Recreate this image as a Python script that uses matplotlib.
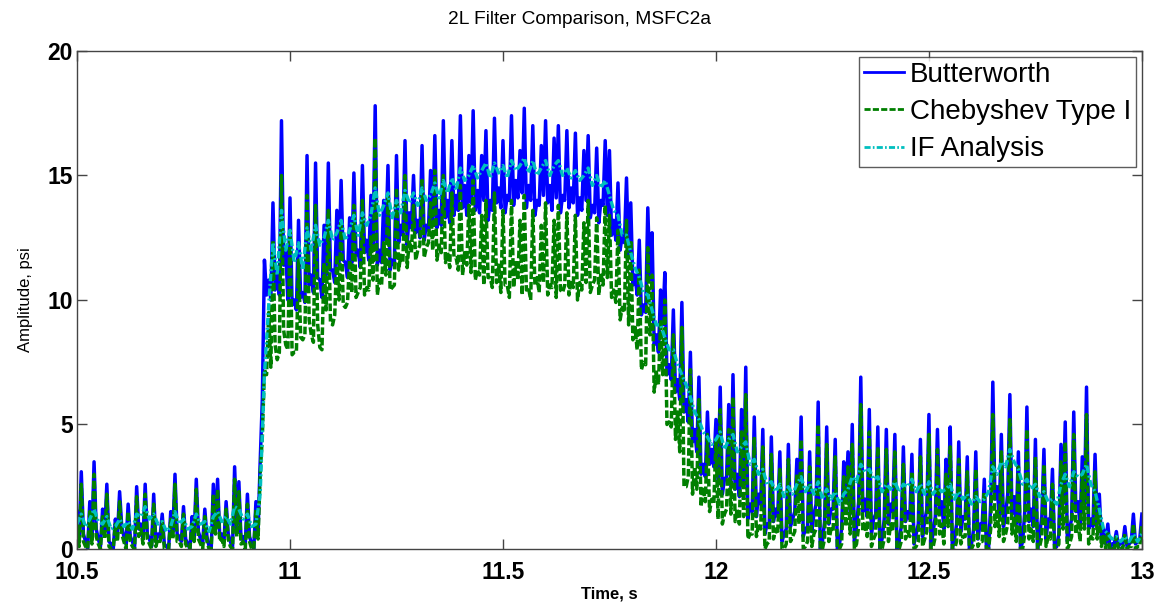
import numpy as np
import matplotlib
matplotlib.use("Agg")
import matplotlib.pyplot as plt

plt.rcParams['font.family'] = ['Liberation Sans', 'DejaVu Sans']

# time base, seconds: samples on a 10 ms grid plus samples midway between them
t_start, t_step = 10.50, 0.01

# Butterworth, samples at t_start + k*10 ms
butterworth_hi = [
    1.5, 3.1, 0.3, 1.9, 3.5, 0.4, 1.6, 2.6, 0.2, 1.2,
    2.3, 0.5, 1.8, 0.3, 2.5, 1.0, 2.6, 0.4, 2.2, 0.6,
    1.4, 0.1, 1.5, 3.0, 0.5, 1.7, 0.2, 1.3, 2.8, 0.4,
    1.6, 0.1, 2.6, 2.8, 0.6, 1.9, 0.3, 3.3, 2.7, 0.5,
    2.2, 0.2, 1.9, 3.5, 11.6, 10.8, 13.9, 11.0, 17.2, 12.0,
    14.1, 10.0, 13.2, 10.3, 15.8, 11.0, 15.5, 10.8, 13.0, 15.5,
    11.2, 13.6, 14.8, 11.5, 13.3, 15.1, 12.0, 15.4, 12.4, 14.2,
    17.8, 12.0, 14.0, 15.4, 11.6, 15.8, 13.0, 16.4, 13.5, 15.0,
    13.2, 16.2, 13.0, 15.2, 16.6, 13.6, 17.2, 14.0, 16.4, 14.2,
    17.4, 14.6, 15.8, 17.6, 14.4, 15.8, 16.8, 14.0, 17.3, 14.5,
    16.4, 14.2, 17.4, 14.8, 16.0, 17.7, 14.6, 17.0, 14.0, 16.2,
    17.2, 14.6, 16.5, 17.0, 14.2, 16.8, 14.5, 16.7, 14.1, 16.0,
    16.6, 13.8, 16.1, 14.0, 16.4, 16.0, 13.2, 14.7, 12.6, 14.9,
    13.9, 11.0, 12.4, 9.8, 13.7, 12.7, 8.6, 10.4, 11.1, 7.4,
    9.6, 6.8, 9.9, 6.0, 7.9, 4.8, 6.9, 3.4, 5.5, 4.0,
    5.2, 6.5, 2.8, 5.8, 7.0, 3.0, 5.6, 7.3, 1.8, 5.3,
    2.2, 4.8, 1.0, 4.5, 1.6, 3.9, 0.6, 4.2, 1.2, 3.6,
    5.3, 0.8, 3.9, 1.4, 5.9, 0.3, 4.9, 1.6, 4.4, 0.2,
    3.5, 3.9, 5.0, 0.9, 6.9, 2.0, 5.6, 1.2, 4.9, 0.4,
    4.8, 1.8, 4.6, 0.3, 4.1, 1.5, 3.8, 0.6, 4.4, 1.1,
    5.4, 0.7, 4.8, 1.9, 3.6, 4.9, 0.4, 4.3, 1.3, 3.7,
    0.2, 3.9, 1.0, 2.8, 0.0, 6.7, 2.5, 4.6, 1.4, 6.2,
    2.1, 3.9, 0.3, 5.7, 1.6, 4.4, 0.6, 4.0, 1.2, 3.2,
    0.1, 4.2, 5.1, 0.8, 5.5, 1.9, 3.7, 6.5, 1.2, 3.8,
    2.2, 0.8, 1.0, 0.2, 0.7, 0.3, 0.9, 0.2, 1.4, 0.3,
    1.4,
]
# Butterworth, samples at t_start + k*10 ms + 5 ms
butterworth_lo = [
    0.4, 0.6, 0.0, 0.5, 0.8, 0.1, 0.7, 0.3, 0.0, 0.6,
    0.9, 0.2, 0.5, 0.0, 0.8, 0.4, 0.6, 0.1, 0.3, 0.5,
    0.2, 0.0, 0.7, 0.6, 0.3, 0.4, 0.0, 0.5, 0.7, 0.2,
    0.5, 0.0, 0.9, 0.5, 0.3, 0.6, 0.0, 0.8, 0.4, 0.2,
    0.5, 0.0, 0.7, 6.0, 10.2, 10.0, 10.4, 10.2, 11.4, 10.0,
    9.8, 9.6, 10.1, 9.9, 10.6, 10.3, 10.9, 10.1, 11.0, 11.2,
    10.7, 11.3, 11.6, 10.9, 11.5, 11.8, 11.3, 11.9, 11.6, 12.2,
    11.4, 11.5, 12.4, 11.2, 11.4, 12.3, 12.6, 12.2, 12.9, 12.7,
    12.5, 12.4, 12.8, 13.1, 12.9, 13.0, 13.3, 13.1, 13.4, 13.6,
    13.7, 13.4, 13.9, 13.6, 13.5, 14.0, 13.2, 13.6, 13.9, 13.7,
    13.5, 14.0, 13.8, 14.1, 14.3, 13.7, 14.0, 13.4, 13.8, 14.2,
    13.9, 13.6, 14.1, 13.5, 14.0, 13.7, 13.9, 13.4, 13.6, 14.0,
    13.3, 13.5, 13.1, 13.8, 13.4, 12.6, 12.4, 12.0, 12.3, 11.8,
    10.6, 10.2, 9.4, 9.5, 10.8, 8.2, 7.9, 9.0, 7.0, 6.8,
    6.3, 6.0, 5.5, 5.1, 4.3, 3.9, 3.0, 2.9, 3.4, 3.3,
    2.6, 2.2, 2.9, 2.5, 2.4, 2.1, 2.6, 1.2, 1.5, 1.3,
    1.8, 0.6, 0.9, 1.1, 1.3, 0.3, 0.8, 0.9, 1.5, 2.0,
    0.5, 0.9, 0.7, 1.8, 0.0, 1.1, 1.0, 1.6, 0.0, 0.8,
    1.9, 1.4, 0.3, 1.9, 1.5, 1.3, 0.6, 1.4, 0.0, 1.2,
    1.0, 1.5, 0.0, 0.9, 1.1, 1.2, 0.2, 1.0, 0.5, 1.6,
    0.1, 1.3, 1.4, 0.8, 1.9, 0.0, 1.0, 0.7, 1.2, 0.0,
    0.8, 0.4, 1.0, 0.0, 1.8, 2.0, 1.3, 0.9, 2.2, 1.4,
    1.0, 0.0, 1.5, 1.1, 0.9, 0.0, 1.3, 0.4, 1.1, 0.0,
    0.6, 1.8, 0.3, 1.2, 1.5, 0.9, 1.8, 0.8, 0.9, 1.0,
    0.4, 0.2, 0.0, 0.2, 0.1, 0.2, 0.1, 0.3, 0.2, 0.4,
]

# Chebyshev Type I, samples at t_start + k*10 ms
chebyshev_hi = [
    1.2, 2.6, 0.1, 1.5, 3.0, 0.2, 1.3, 2.2, 0.0, 1.0,
    1.9, 0.3, 1.5, 0.1, 2.1, 0.8, 2.2, 0.2, 1.8, 0.4,
    1.1, 0.0, 1.2, 2.6, 0.3, 1.4, 0.0, 1.0, 2.4, 0.2,
    1.3, 0.0, 2.2, 2.4, 0.4, 1.6, 0.1, 2.8, 2.3, 0.3,
    1.8, 0.0, 1.6, 3.0, 7.2, 9.5, 12.4, 7.6, 15.0, 8.2,
    12.8, 7.9, 11.6, 8.4, 14.2, 8.6, 13.8, 8.1, 11.5, 13.6,
    9.0, 11.8, 13.2, 9.7, 11.6, 13.8, 10.3, 14.0, 10.5, 12.6,
    16.5, 10.8, 12.3, 14.2, 10.5, 14.5, 11.8, 15.0, 12.4, 13.8,
    12.0, 14.8, 12.1, 13.9, 15.2, 12.2, 15.0, 11.9, 14.3, 11.7,
    14.6, 11.9, 13.8, 14.8, 11.2, 13.4, 14.0, 10.9, 14.3, 11.4,
    13.6, 10.6, 14.0, 11.5, 13.2, 14.2, 10.5, 13.6, 10.9, 13.0,
    13.9, 10.6, 13.2, 13.8, 10.3, 13.5, 10.8, 13.4, 10.7, 13.1,
    14.0, 10.6, 13.3, 11.1, 13.8, 13.4, 10.4, 12.8, 9.7, 13.2,
    12.4, 8.9, 11.2, 7.5, 12.1, 11.0, 7.1, 9.2, 10.0, 5.1,
    8.6, 5.5, 8.9, 2.5, 7.2, 3.3, 6.0, 2.5, 4.6, 2.0,
    4.4, 5.6, 1.4, 4.8, 6.1, 1.6, 4.7, 6.2, 0.6, 4.5,
    1.0, 4.1, 0.2, 3.8, 0.8, 3.2, 0.0, 3.6, 0.5, 3.0,
    4.4, 0.1, 3.3, 0.6, 5.0, 0.0, 4.2, 0.8, 3.7, 0.0,
    2.9, 3.3, 4.2, 0.2, 5.8, 1.1, 4.7, 0.4, 4.1, 0.0,
    4.0, 1.0, 3.9, 0.0, 3.4, 0.7, 3.1, 0.1, 3.7, 0.4,
    4.6, 0.1, 4.0, 1.0, 3.0, 4.1, 0.0, 3.6, 0.5, 3.1,
    0.0, 3.2, 0.3, 2.3, 0.0, 5.4, 1.6, 3.9, 0.6, 5.2,
    1.3, 3.3, 0.0, 4.8, 0.8, 3.7, 0.1, 3.4, 0.5, 2.6,
    0.0, 3.5, 4.3, 0.2, 4.6, 1.1, 3.1, 5.4, 0.5, 3.1,
    1.6, 0.5, 0.7, 0.1, 0.5, 0.1, 0.6, 0.1, 1.0, 0.1,
    1.0,
]
# Chebyshev Type I, samples at t_start + k*10 ms + 5 ms
chebyshev_lo = [
    0.1, 0.3, 0.0, 0.2, 0.5, 0.0, 0.4, 0.1, 0.0, 0.3,
    0.6, 0.0, 0.3, 0.0, 0.5, 0.2, 0.4, 0.0, 0.1, 0.3,
    0.0, 0.0, 0.4, 0.3, 0.1, 0.2, 0.0, 0.3, 0.4, 0.0,
    0.3, 0.0, 0.6, 0.3, 0.1, 0.4, 0.0, 0.5, 0.2, 0.0,
    0.3, 0.0, 0.4, 4.5, 7.0, 7.3, 8.2, 7.9, 8.8, 8.0,
    7.8, 7.9, 8.5, 8.6, 9.2, 8.3, 9.0, 8.0, 9.6, 9.1,
    9.4, 10.0, 9.8, 9.9, 10.3, 10.1, 10.5, 10.2, 10.4, 10.8,
    10.2, 10.6, 11.0, 10.4, 10.6, 11.2, 11.5, 11.3, 11.9, 11.6,
    12.2, 11.7, 12.3, 12.0, 11.6, 11.9, 11.5, 11.3, 11.7, 11.2,
    11.0, 11.4, 11.1, 10.8, 11.0, 10.6, 10.9, 10.5, 10.7, 10.3,
    10.6, 10.1, 10.5, 10.8, 10.2, 10.4, 10.0, 10.6, 10.3, 10.7,
    10.2, 10.5, 10.1, 10.4, 10.6, 10.2, 10.5, 10.0, 10.4, 10.7,
    10.3, 10.8, 10.2, 10.6, 10.9, 10.1, 9.9, 9.2, 9.5, 9.0,
    8.4, 8.0, 7.2, 7.4, 8.6, 6.3, 6.6, 7.0, 5.0, 4.9,
    4.4, 3.9, 2.5, 2.9, 2.2, 2.4, 1.7, 1.9, 1.5, 1.8,
    1.2, 1.0, 1.6, 1.4, 1.1, 1.0, 1.3, 0.4, 0.6, 0.5,
    0.8, 0.0, 0.3, 0.4, 0.6, 0.0, 0.2, 0.3, 0.7, 1.0,
    0.0, 0.3, 0.1, 0.8, 0.0, 0.4, 0.3, 0.7, 0.0, 0.2,
    0.9, 0.6, 0.0, 0.9, 0.7, 0.5, 0.1, 0.6, 0.0, 0.4,
    0.3, 0.7, 0.0, 0.3, 0.4, 0.5, 0.0, 0.3, 0.1, 0.7,
    0.0, 0.5, 0.6, 0.2, 0.9, 0.0, 0.3, 0.2, 0.5, 0.0,
    0.2, 0.1, 0.3, 0.0, 0.8, 0.9, 0.5, 0.3, 1.0, 0.6,
    0.3, 0.0, 0.6, 0.4, 0.3, 0.0, 0.5, 0.1, 0.4, 0.0,
    0.2, 0.8, 0.0, 0.5, 0.6, 0.3, 0.8, 0.2, 0.4, 0.4,
    0.1, 0.0, 0.0, 0.0, 0.0, 0.0, 0.0, 0.1, 0.0, 0.1,
]

# IF analysis, samples at t_start + k*10 ms
if_analysis = [
    1.0, 1.4, 0.9, 1.2, 1.6, 1.1, 1.0, 1.3, 0.8, 0.9,
    1.2, 0.9, 1.1, 0.8, 1.4, 1.3, 1.7, 1.2, 1.4, 1.0,
    1.1, 0.7, 0.9, 1.5, 1.0, 1.2, 0.8, 0.9, 1.4, 1.0,
    1.1, 0.7, 1.3, 1.5, 1.1, 1.3, 1.0, 1.7, 1.6, 1.2,
    1.4, 0.9, 1.0, 2.2, 7.0, 9.8, 12.3, 11.0, 13.6, 12.0,
    12.8, 11.5, 12.3, 11.2, 12.9, 12.0, 13.0, 12.2, 12.5, 13.2,
    12.4, 12.7, 13.2, 12.4, 12.8, 13.4, 12.6, 13.5, 13.0, 13.4,
    14.5, 13.4, 13.8, 14.3, 13.3, 14.0, 13.5, 14.4, 13.9, 14.3,
    13.8, 14.5, 14.0, 14.2, 14.7, 14.1, 14.8, 14.3, 14.9, 14.4,
    15.3, 14.8, 15.0, 15.4, 14.9, 15.2, 15.5, 14.9, 15.5, 15.1,
    15.4, 14.9, 15.6, 15.2, 15.4, 15.7, 15.1, 15.6, 15.0, 15.3,
    15.6, 15.0, 15.4, 15.6, 15.0, 15.3, 14.9, 15.2, 14.8, 15.0,
    15.3, 14.6, 15.0, 14.5, 14.8, 14.2, 13.6, 13.4, 12.6, 12.6,
    11.9, 11.3, 10.9, 10.3, 10.2, 9.6, 9.0, 9.0, 8.5, 8.0,
    8.0, 7.4, 7.0, 6.6, 6.1, 5.5, 5.2, 4.7, 4.5, 4.2,
    4.4, 4.7, 4.0, 4.4, 4.6, 3.9, 4.1, 4.3, 3.4, 3.6,
    3.0, 3.2, 2.6, 2.7, 2.3, 2.6, 2.1, 2.5, 2.2, 2.6,
    2.9, 2.3, 2.6, 2.2, 2.7, 2.0, 2.4, 2.0, 2.3, 1.8,
    2.2, 2.4, 2.9, 2.7, 3.4, 3.1, 3.2, 2.8, 2.9, 2.3,
    2.6, 2.4, 2.7, 2.3, 2.6, 2.5, 2.8, 2.3, 2.6, 2.2,
    2.7, 2.2, 2.5, 2.3, 2.4, 2.6, 2.0, 2.3, 2.0, 2.2,
    1.8, 2.1, 1.9, 2.0, 2.3, 3.3, 3.0, 3.5, 3.3, 4.0,
    3.5, 3.2, 2.6, 2.8, 2.4, 2.6, 2.1, 2.3, 1.9, 2.0,
    1.8, 2.6, 3.0, 2.5, 3.1, 2.9, 3.0, 3.4, 2.6, 2.3,
    1.6, 0.8, 0.6, 0.4, 0.5, 0.3, 0.5, 0.3, 0.6, 0.3,
    0.6,
]

x_ticks = [10.5, 11, 11.5, 12, 12.5, 13]
x_tick_labels = ['10.5', '11', '11.5', '12', '12.5', '13']
y_ticks = [0, 5, 10, 15, 20]


def merge(on_grid, between):
    """Interleave grid samples with the samples midway between them."""
    out = np.empty(len(on_grid) + len(between))
    out[0::2] = on_grid
    out[1::2] = between
    return out


butterworth = merge(butterworth_hi, butterworth_lo)
chebyshev = merge(chebyshev_hi, chebyshev_lo)
time_fine = t_start + 0.5 * t_step * np.arange(len(butterworth))
time_if = t_start + t_step * np.arange(len(if_analysis))

fig = plt.figure(figsize=(11.6, 6.07), dpi=100)
ax = fig.add_axes([0.0664, 0.0956, 0.918, 0.8204])

ax.plot(time_fine, butterworth, color='#0000FF', lw=2.5, ls='-', label='Butterworth')
ax.plot(time_fine, chebyshev, color='#007F00', lw=2.5, ls=(0, (2.2, 0.8)),
        label='Chebyshev Type I')
ax.plot(time_if, if_analysis, color='#00BFBF', lw=2.4,
        ls=(0, (2.2, 0.8, 0.6, 0.8)), label='IF Analysis')

ax.set_xlim(10.5, 13)
ax.set_ylim(0, 20)
ax.set_xticks(x_ticks)
ax.set_xticklabels(x_tick_labels)
ax.set_yticks(y_ticks)
ax.tick_params(direction='in', length=7, width=1, color='#444444',
               top=True, right=True, labelsize=16.5)
ax.tick_params(axis='x', pad=8.5)
ax.tick_params(axis='y', pad=3)
for lbl in ax.get_xticklabels() + ax.get_yticklabels():
    lbl.set_fontweight('bold')
for sp in ax.spines.values():
    sp.set_color('#444444')
    sp.set_linewidth(1.0)

fig.text(0.5, 1 - 20 / 607, '2L Filter Comparison, MSFC2a', fontsize=13.8,
         ha='center', va='center')
ax.set_xlabel('Time, s', fontsize=12, fontweight='bold', labelpad=2)
ax.set_ylabel('Amplitude, psi', fontsize=12, labelpad=10)

leg = ax.legend(loc='upper right', fontsize=20, frameon=True, fancybox=False,
                edgecolor='#333333', handlelength=1.45, handletextpad=0.2,
                borderpad=0.18, labelspacing=0.4, borderaxespad=0.22)
leg.get_frame().set_linewidth(1.0)
for h in leg.get_lines():
    h.set_linewidth(2.0)

fig.savefig('out.png', dpi=100)
